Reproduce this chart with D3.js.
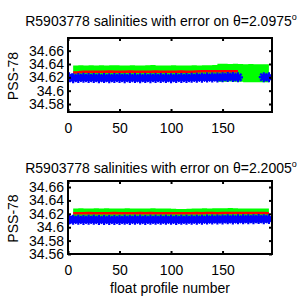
<!DOCTYPE html>
<html lang="en">
<head>
<meta charset="UTF-8">
<script src="https://d3js.org/d3.v7.min.js"></script>
<title>salinities with error</title>
<style>
  body { margin: 0; background: #fff; }
  text { font-family: "Liberation Sans", Arial, sans-serif; font-size: 14px; }
</style>
</head>
<body>
<script>
// profile numbers (sampled every 5 profiles)
var profiles = [1,5,10,15,20,25,30,35,40,45,50,55,60,65,70,75,80,85,90,95,
                100,105,110,115,120,125,130,135,140,145,150,155,160,165,170,175,180,185,190,195];

// top panel: theta = 2.0975
var topGreenHi = [null,34.6378,34.6380,34.6376,34.6382,34.6379,34.6381,34.6377,34.6380,34.6383,
                  34.6378,34.6376,34.6380,34.6379,34.6377,34.6381,34.6384,34.6379,34.6378,34.6376,
                  34.6380,34.6378,34.6377,34.6379,34.6381,34.6378,34.6380,34.6382,34.6385,34.6402,
                  34.6404,34.6400,34.6403,34.6401,34.6398,34.6400,34.6396,34.6398,34.6397,34.6397];
var topGreenLo = [null,34.6150,34.6148,34.6150,34.6146,34.6150,34.6148,34.6151,34.6149,34.6147,
                  34.6150,34.6148,34.6150,34.6152,34.6146,34.6149,34.6150,34.6148,34.6151,34.6149,
                  34.6147,34.6150,34.6148,34.6149,34.6151,34.6150,34.6148,34.6146,34.6145,34.6135,
                  34.6133,34.6136,34.6134,34.6132,34.6128,34.6126,34.6127,34.6125,34.6126,34.6126];
var topRed = [null,34.6272,34.6276,34.6282,34.6284,34.6283,34.6285,34.6284,34.6286,34.6285,
              34.6283,34.6284,34.6286,34.6285,34.6284,34.6283,34.6285,34.6286,34.6284,34.6283,
              34.6285,34.6284,34.6286,34.6285,34.6284,34.6288,34.6290,34.6291,34.6290,34.6292,
              34.6291,34.6293,34.6292,34.6290,null,null,null,null,null,null];
var topBlue = [34.6200,34.6188,34.6190,34.6192,34.6189,34.6191,34.6188,34.6190,34.6187,34.6189,
               34.6191,34.6188,34.6190,34.6189,34.6187,34.6190,34.6188,34.6191,34.6189,34.6190,
               34.6188,34.6190,34.6191,34.6189,34.6192,34.6194,34.6195,34.6196,34.6197,34.6199,
               34.6201,34.6205,34.6206,34.6200,null,null,null,null,34.6203,34.6202];

// bottom panel: theta = 2.2005
var botGreenHi = [null,34.6280,34.6282,34.6279,34.6281,34.6283,34.6280,34.6282,34.6281,34.6279,
                  34.6280,34.6282,34.6280,34.6279,34.6281,34.6280,34.6282,34.6279,34.6280,34.6278,
                  34.6275,34.6272,34.6273,34.6276,34.6279,34.6280,34.6282,34.6281,34.6283,34.6282,
                  34.6284,34.6285,34.6283,34.6281,34.6280,34.6279,34.6278,34.6279,34.6278,34.6278];
var botGreenLo = [null,34.6072,34.6070,34.6073,34.6071,34.6069,34.6072,34.6070,34.6071,34.6073,
                  34.6070,34.6068,34.6071,34.6072,34.6070,34.6071,34.6069,34.6072,34.6070,34.6071,
                  34.6070,34.6068,34.6069,34.6071,34.6072,34.6070,34.6071,34.6073,34.6070,34.6071,
                  34.6072,34.6070,34.6071,34.6073,34.6072,34.6071,34.6072,34.6070,34.6072,34.6072];
var botRed = [null,34.6208,34.6210,34.6209,34.6211,34.6210,34.6209,34.6208,34.6210,34.6211,
              34.6209,34.6208,34.6210,34.6209,34.6211,34.6210,34.6212,34.6209,34.6210,34.6208,
              34.6207,34.6209,34.6210,34.6208,34.6209,34.6211,34.6210,34.6212,34.6211,34.6210,
              34.6212,34.6213,34.6212,34.6211,34.6213,34.6212,34.6211,34.6212,34.6211,34.6210];
var botBlue = [34.6115,34.6110,34.6112,34.6109,34.6111,34.6110,34.6108,34.6109,34.6107,34.6109,
               34.6108,34.6110,34.6109,34.6111,34.6110,34.6109,34.6111,34.6110,34.6112,34.6110,
               34.6111,34.6109,34.6110,34.6112,34.6111,34.6113,34.6112,34.6114,34.6115,34.6116,
               34.6117,34.6118,34.6117,34.6119,34.6118,34.6120,34.6119,34.6121,34.6120,34.6122];

var xTicks = [0, 50, 100, 150];
var yTicksTop = [34.58, 34.6, 34.62, 34.64, 34.66];
var yTicksBot = [34.56, 34.58, 34.6, 34.62, 34.64, 34.66];

var W = 300, H = 300;
var svg = d3.select("body").append("svg").attr("width", W).attr("height", H);

function panel(opt) {
    var x = d3.scaleLinear().domain([0, 198]).range([68, 272]);
    var y = d3.scaleLinear().domain(opt.ydom).range([opt.bottom, opt.top]);
    var g = svg.append("g");

    g.append("clipPath").attr("id", opt.id)
        .append("rect").attr("x", 68).attr("y", opt.top)
        .attr("width", 204).attr("height", opt.bottom - opt.top);

    var marks = g.append("g").attr("clip-path", "url(#" + opt.id + ")");

    var rows = profiles.map(function(p, i) {
        return { p: p, hi: opt.hi[i], lo: opt.lo[i], red: opt.red[i], blue: opt.blue[i] };
    });

    // error envelope
    var area = d3.area()
        .defined(function(d) { return d.hi != null; })
        .curve(d3.curveStepAfter)
        .x(function(d) { return x(d.p); })
        .y0(function(d) { return y(d.lo); })
        .y1(function(d) { return y(d.hi); });
    marks.append("path").datum(rows).attr("d", area).attr("fill", "#00ff00");

    // red line
    var redLine = d3.line()
        .defined(function(d) { return d.red != null; })
        .x(function(d) { return x(d.p); })
        .y(function(d) { return y(d.red); });
    marks.append("path").datum(rows).attr("d", redLine)
        .attr("fill", "none").attr("stroke", "#ff0000").attr("stroke-width", 2.5);

    // blue line + stars
    var blueLine = d3.line()
        .defined(function(d) { return d.blue != null; })
        .x(function(d) { return x(d.p); })
        .y(function(d) { return y(d.blue); });
    marks.append("path").datum(rows).attr("d", blueLine)
        .attr("fill", "none").attr("stroke", "#0000ff").attr("stroke-width", 6);

    var r = 5, a = r * 0.7071;
    var star = "M" + (-r) + ",0L" + r + ",0M0," + (-r) + "L0," + r +
               "M" + (-a) + "," + (-a) + "L" + a + "," + a +
               "M" + (-a) + "," + a + "L" + a + "," + (-a);
    marks.selectAll(".star").data(rows.filter(function(d) { return d.blue != null; }))
        .enter().append("path")
        .attr("transform", function(d) { return "translate(" + x(d.p) + "," + y(d.blue) + ")"; })
        .attr("d", star).attr("fill", "none")
        .attr("stroke", "#0000ff").attr("stroke-width", 2.2);

    // axes
    var fmt = function(d) { return String(d); };
    var ax = g.append("g").attr("transform", "translate(0," + opt.bottom + ")")
        .call(d3.axisBottom(x).tickValues(xTicks).tickSize(-3).tickPadding(11).tickFormat(fmt));
    var axT = g.append("g").attr("transform", "translate(0," + opt.top + ")")
        .call(d3.axisTop(x).tickValues(xTicks).tickSize(-3).tickFormat(""));
    var ay = g.append("g").attr("transform", "translate(68,0)")
        .call(d3.axisLeft(y).tickValues(opt.yticks).tickSize(-3).tickPadding(4).tickFormat(fmt));
    var ayR = g.append("g").attr("transform", "translate(272,0)")
        .call(d3.axisRight(y).tickValues(opt.yticks).tickSize(-3).tickFormat(""));
    [ax, axT, ay, ayR].forEach(function(s) {
        s.select(".domain").remove();
        s.selectAll("line").attr("stroke", "#000").attr("stroke-width", 2);
        s.selectAll("text").attr("fill", "#000")
            .style("font-family", "'Liberation Sans', Arial, sans-serif").style("font-size", "14px");
    });

    g.append("rect").attr("x", 68).attr("y", opt.top)
        .attr("width", 204).attr("height", opt.bottom - opt.top)
        .attr("fill", "none").attr("stroke", "#000").attr("stroke-width", 2);

    // title
    var t = g.append("text").attr("x", 161).attr("y", opt.titleY).attr("text-anchor", "middle");
    t.append("tspan").text(opt.title);
    t.append("tspan").attr("dy", -6).style("font-size", "9px").text("o");

    // y label
    g.append("text")
        .attr("transform", "translate(18," + ((opt.top + opt.bottom) / 2 + 1) + ") rotate(-90)")
        .attr("text-anchor", "middle").text("PSS-78");
}

panel({ id: "c1", top: 38, bottom: 112, ydom: [34.568, 34.679], yticks: yTicksTop,
        hi: topGreenHi, lo: topGreenLo, red: topRed, blue: topBlue,
        title: "R5903778 salinities with error on \u03b8=2.0975", titleY: 26 });
panel({ id: "c2", top: 181, bottom: 254, ydom: [34.56, 34.669], yticks: yTicksBot,
        hi: botGreenHi, lo: botGreenLo, red: botRed, blue: botBlue,
        title: "R5903778 salinities with error on \u03b8=2.2005", titleY: 173 });

svg.append("text").attr("x", 170).attr("y", 293).attr("text-anchor", "middle")
    .text("float profile number");
</script>
</body>
</html>
